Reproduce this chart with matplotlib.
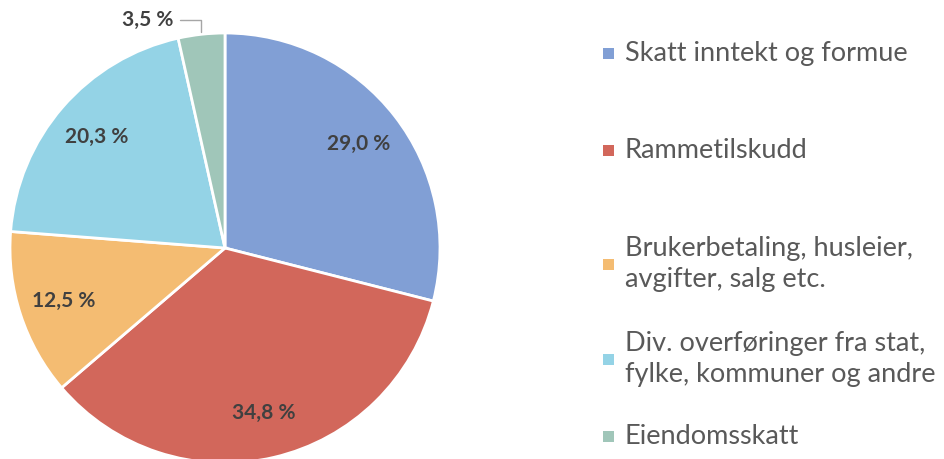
import numpy as np
import matplotlib.pyplot as plt
from matplotlib.patches import Rectangle

categories = ["Skatt inntekt og formue", "Rammetilskudd",
              "Brukerbetaling, husleier,\navgifter, salg etc.",
              "Div. overføringer fra stat,\nfylke, kommuner og andre",
              "Eiendomsskatt"]
values = [29.0, 34.8, 12.5, 20.3, 3.5]
colors = ["#819FD5", "#D2675B", "#F4BC72", "#94D3E6", "#A0C6B9"]

plt.rcParams["font.family"] = ["Lato", "DejaVu Sans"]

fig = plt.figure(figsize=(9.45, 4.59), dpi=100)
W, H = 945, 459
cx, cy, r = 225, 248, 215
ax = fig.add_axes([(cx - r) / W, (H - cy - r) / H, 2 * r / W, 2 * r / H])

wedges, _ = ax.pie(values, colors=colors, startangle=90, counterclock=False,
                   wedgeprops=dict(edgecolor="white", linewidth=2))
ax.set_xlim(-1, 1)
ax.set_ylim(-1, 1)
ax.set_aspect("equal")
ax.axis("off")

for i, (w, v) in enumerate(zip(wedges, values)):
    ang = np.deg2rad((w.theta1 + w.theta2) / 2)
    txt = f"{v:.1f} %".replace(".", ",")
    if v < 5:
        x0, y0 = np.cos(ang), np.sin(ang)
        ax.annotate(txt, xy=(x0, y0), xytext=(-0.36, 1.06),
                    ha="center", va="center", fontsize=15, fontweight="bold",
                    color="#404040", annotation_clip=False,
                    arrowprops=dict(arrowstyle="-", color="#A6A6A6", lw=1,
                                    shrinkA=3, shrinkB=2,
                                    connectionstyle="angle,angleA=0,angleB=90,rad=0"))
    else:
        d = 0.79
        ax.text(d * np.cos(ang), d * np.sin(ang), txt, ha="center", va="center",
                fontsize=15, fontweight="bold", color="#404040")

# legend
leg_y = [53, 150, 264, 359, 436]
for lab, col, y in zip(categories, colors, leg_y):
    fig.patches.append(Rectangle((603 / W, (H - y - 5.5) / H), 11 / W, 11 / H,
                                 transform=fig.transFigure, facecolor=col,
                                 edgecolor="none"))
    fig.text(625 / W, (H - y) / H, lab, ha="left", va="center", fontsize=19.5,
             color="#595959", linespacing=1.3)

fig.savefig("out.png", dpi=100)
